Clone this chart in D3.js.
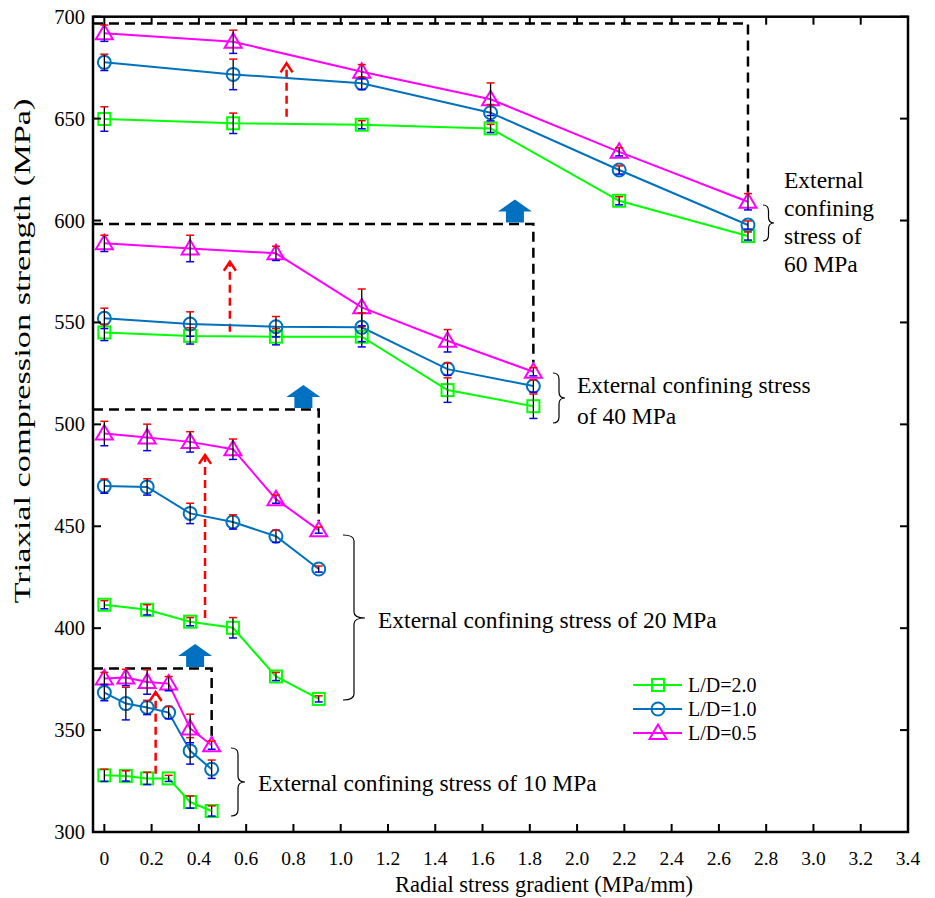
<!DOCTYPE html>
<html lang="en">
<head>
<meta charset="utf-8" />
<title>Triaxial compression strength vs radial stress gradient</title>
<style>
   body { margin:0; background:#fff; }
   text { font-family:"Liberation Serif", "Times New Roman", serif; fill:#000; }
</style>
<script src="https://d3js.org/d3.v7.min.js"></script>
</head>
<body>
<svg id="main" width="935" height="898"></svg>
<script>
// x positions (radial stress gradient, MPa/mm) for each confining stress group
var xs10 = [0, 0.091, 0.181, 0.272, 0.363, 0.454];
var xs20 = [0, 0.181, 0.363, 0.544, 0.726, 0.907];
var xs40 = [0, 0.363, 0.726, 1.089, 1.452, 1.815];
var xs60 = [0, 0.545, 1.089, 1.634, 2.178, 2.723];

// strength values (MPa) for L/D = 2.0, 1.0, 0.5
var ld20_10 = [327.8, 327.5, 326.3, 326.3, 314.7, 310.3];
var ld10_10 = [368.4, 363.0, 361.1, 358.6, 339.8, 330.8];
var ld05_10 = [375.3, 375.8, 373.6, 372.8, 350.8, 342.6];
var ld20_20 = [411.5, 409.0, 403.2, 400.2, 376.3, 365.3];
var ld10_20 = [469.7, 469.3, 456.3, 452.1, 445.1, 429.0];
var ld05_20 = [495.5, 493.6, 491.4, 487.8, 463.3, 448.1];
var ld20_40 = [545.1, 543.4, 543.0, 543.0, 516.8, 508.9];
var ld10_40 = [552.0, 549.2, 547.9, 547.6, 527.1, 518.8];
var ld05_40 = [588.8, 586.3, 583.9, 557.4, 541.0, 525.8];
var ld20_60 = [649.8, 647.7, 647.0, 645.2, 609.7, 592.4];
var ld10_60 = [677.6, 671.7, 667.3, 652.9, 624.8, 597.8];
var ld05_60 = [691.9, 687.7, 673.0, 659.5, 633.7, 609.2];

// error bar half-widths (MPa)
var err20_10 = [3, 2.5, 3, 1.5, 3, 2.5];
var err10_10 = [4, 8, 3.5, 3, 6.5, 4.5];
var err05_10 = [3, 4, 6, 3.5, 7, 2];
var err20_20 = [2, 2.5, 2, 5, 2, 1.5];
var err10_20 = [3.5, 4, 5, 3.5, 3, 1.5];
var err05_20 = [6, 6.5, 5, 5, 2, 1.5];
var err20_40 = [4, 4, 4, 5, 6, 6];
var err10_40 = [5, 6, 5, 7, 3, 3];
var err05_40 = [4, 6.5, 3.5, 9, 5.5, 2];
var err20_60 = [6, 5, 2, 2, 2, 2];
var err10_60 = [4, 7.5, 3, 4, 2, 2];
var err05_60 = [4, 5.7, 3.5, 8, 2, 4];

var xTicks = d3.range(0, 3.41, 0.2);
var yTicks = [300, 350, 400, 450, 500, 550, 600, 650, 700];
var seriesNames = ['L/D=2.0', 'L/D=1.0', 'L/D=0.5'];
var seriesColors = ['#00ff00', '#0072bd', '#ff00ff'];
var seriesShapes = ['square', 'circle', 'triangle'];

// annotation anchors (in data units)
var groupLabels = ['External confining stress of 10 MPa', 'External confining stress of 20 MPa',
   ['External confining stress', 'of 40 MPa'], ['External', 'confining', 'stress of', '60 MPa']];
var frameTops = [380.2, 507.3, 598.3, 696.7];
var blueArrowX = [0.384, 0.842, 1.737];
var redArrowX = [0.217, 0.426, 0.531, 0.771];
var redArrowFrom = [328.6, 405.0, 545.4, 650.9];
var redArrowTo = [368.7, 485.0, 579.8, 677.1];

var groups = [
   {x:xs10, vals:[ld20_10, ld10_10, ld05_10], errs:[err20_10, err10_10, err05_10]},
   {x:xs20, vals:[ld20_20, ld10_20, ld05_20], errs:[err20_20, err10_20, err05_20]},
   {x:xs40, vals:[ld20_40, ld10_40, ld05_40], errs:[err20_40, err10_40, err05_40]},
   {x:xs60, vals:[ld20_60, ld10_60, ld05_60], errs:[err20_60, err10_60, err05_60]}
];

var svg = d3.select('#main');
var x = d3.scaleLinear().domain([-0.048, 3.4]).range([93, 908]);
var y = d3.scaleLinear().domain([300, 700]).range([832, 16.7]);

function fmarker(g, shape, cx, cy, color) {
   if (shape==='square') {
      g.append('rect').attr('x', cx-6).attr('y', cy-6).attr('width', 12).attr('height', 12)
         .attr('fill', 'none').attr('stroke', color).attr('stroke-width', 2);
   } else if (shape==='circle') {
      g.append('circle').attr('cx', cx).attr('cy', cy).attr('r', 6.5)
         .attr('fill', 'none').attr('stroke', color).attr('stroke-width', 2);
   } else {
      g.append('path').attr('d', 'M'+cx+','+(cy-8.5)+'L'+(cx+8.5)+','+(cy+6)+'L'+(cx-8.5)+','+(cy+6)+'Z')
         .attr('fill', 'none').attr('stroke', color).attr('stroke-width', 2);
   }
}

// dashed black frames (top + right side) around each group
groups.forEach(function(gr, i) {
   var xr = x(gr.x[gr.x.length-1]);
   var yb = y(gr.vals[2][gr.vals[2].length-1]) - 9;
   svg.append('path')
      .attr('d', 'M'+x.range()[0]+','+y(frameTops[i])+'H'+xr+'V'+yb)
      .attr('fill', 'none').attr('stroke', '#000').attr('stroke-width', 2.5)
      .attr('stroke-dasharray', '10,6');
});

// blue block arrows sitting on the frames
blueArrowX.forEach(function(bx, i) {
   var cx = x(bx), b = y(frameTops[i]) - 1.5;
   svg.append('path')
      .attr('d', 'M'+(cx-9)+','+b+'V'+(b-11)+'H'+(cx-17)+'L'+cx+','+(b-23)+'L'+(cx+17)+','+(b-11)+'H'+(cx+9)+'V'+b+'Z')
      .attr('fill', '#0070c0');
});

// red dashed arrows
redArrowX.forEach(function(rx, i) {
   var cx = x(rx), y0 = y(redArrowFrom[i]), y1 = y(redArrowTo[i]);
   svg.append('line').attr('x1', cx).attr('x2', cx).attr('y1', y0).attr('y2', y1+2)
      .attr('stroke', '#ff0000').attr('stroke-width', 2.5).attr('stroke-dasharray', '8,5');
   svg.append('path').attr('d', 'M'+(cx-6)+','+(y1+9)+'L'+cx+','+y1+'L'+(cx+6)+','+(y1+9))
      .attr('fill', 'none').attr('stroke', '#ff0000').attr('stroke-width', 2.5);
});

// series lines, markers and error bars
var line = d3.line().x(function(d) { return x(d[0]); }).y(function(d) { return y(d[1]); });
groups.forEach(function(gr) {
   gr.vals.forEach(function(vals, s) {
      var pts = vals.map(function(v, k) { return [gr.x[k], v]; });
      svg.append('path').attr('d', line(pts)).attr('fill', 'none')
         .attr('stroke', seriesColors[s]).attr('stroke-width', 2);
   });
   gr.vals.forEach(function(vals, s) {
      var g = svg.append('g');
      vals.forEach(function(v, k) { fmarker(g, seriesShapes[s], x(gr.x[k]), y(v), seriesColors[s]); });
   });
   gr.vals.forEach(function(vals, s) {
      var g = svg.append('g');
      vals.forEach(function(v, k) {
         var cx = x(gr.x[k]), yt = y(v + gr.errs[s][k]), yb = y(v - gr.errs[s][k]);
         g.append('line').attr('x1', cx).attr('x2', cx).attr('y1', yt).attr('y2', yb)
            .attr('stroke', '#000').attr('stroke-width', 1.3);
         g.append('line').attr('x1', cx-4).attr('x2', cx+4).attr('y1', yt).attr('y2', yt)
            .attr('stroke', '#ff0000').attr('stroke-width', 1.5);
         g.append('line').attr('x1', cx-4).attr('x2', cx+4).attr('y1', yb).attr('y2', yb)
            .attr('stroke', '#0000ff').attr('stroke-width', 1.5);
      });
   });
});

// curly braces with group labels
function fbrace(x0, x1, y0, y1, ym) {
   var xm = (x0+x1)/2, q = 6;
   return 'M'+x0+','+y0+'Q'+xm+','+y0+' '+xm+','+(y0+q)+'L'+xm+','+(ym-q)+'Q'+xm+','+ym+' '+x1+','+ym
      +'Q'+xm+','+ym+' '+xm+','+(ym+q)+'L'+xm+','+(y1-q)+'Q'+xm+','+y1+' '+x0+','+y1;
}
var braces = [[231, 245, 748, 816, 782], [343, 365, 535, 700, 618], [553, 565, 373, 423, 398], [763, 774, 205, 241, 223]];
var labelPos = [[258, 791, 28], [378, 628, 28], [577, 393, 31], [784, 188, 28]];
braces.forEach(function(b, i) {
   svg.append('path').attr('d', fbrace(b[0], b[1], b[2], b[3], b[4]))
      .attr('fill', 'none').attr('stroke', '#000').attr('stroke-width', 1.2);
   var lines = [].concat(groupLabels[i]);
   var t = svg.append('text').attr('x', labelPos[i][0]).attr('y', labelPos[i][1]).style('font-size', '23.5px');
   lines.forEach(function(l, k) {
      t.append('tspan').attr('x', labelPos[i][0]).attr('dy', k===0 ? 0 : labelPos[i][2]).text(l);
   });
});

// axes frame and ticks
svg.append('rect').attr('x', 93).attr('y', 16.7).attr('width', 815).attr('height', 815.3)
   .attr('fill', 'none').attr('stroke', '#000').attr('stroke-width', 2.5);
xTicks.forEach(function(t) {
   svg.append('line').attr('x1', x(t)).attr('x2', x(t)).attr('y1', 832).attr('y2', 824).attr('stroke', '#000').attr('stroke-width', 2);
   svg.append('line').attr('x1', x(t)).attr('x2', x(t)).attr('y1', 16.7).attr('y2', 24.7).attr('stroke', '#000').attr('stroke-width', 2);
   svg.append('text').attr('x', x(t)).attr('y', 865).attr('text-anchor', 'middle').style('font-size', '19.5px')
      .text(t < 0.01 ? '0' : t.toFixed(1));
});
yTicks.forEach(function(t) {
   svg.append('line').attr('x1', 93).attr('x2', 101).attr('y1', y(t)).attr('y2', y(t)).attr('stroke', '#000').attr('stroke-width', 2);
   svg.append('line').attr('x1', 908).attr('x2', 900).attr('y1', y(t)).attr('y2', y(t)).attr('stroke', '#000').attr('stroke-width', 2);
   svg.append('text').attr('x', 85).attr('y', y(t)+7).attr('text-anchor', 'end').style('font-size', '20.5px').text(t);
});
svg.append('text').attr('x', 544).attr('y', 892).attr('text-anchor', 'middle').style('font-size', '22.5px')
   .text('Radial stress gradient (MPa/mm)');
svg.append('text').attr('transform', 'translate(30,351) rotate(-90)').attr('text-anchor', 'middle').style('font-size', '24px')
   .attr('textLength', 505).attr('lengthAdjust', 'spacingAndGlyphs')
   .text('Triaxial compression strength (MPa)');

// legend
seriesNames.forEach(function(n, i) {
   var ly = 685 + i*24;
   svg.append('line').attr('x1', 633).attr('x2', 682).attr('y1', ly).attr('y2', ly)
      .attr('stroke', seriesColors[i]).attr('stroke-width', 2);
   fmarker(svg.append('g'), seriesShapes[i], 658, ly, seriesColors[i]);
   svg.append('text').attr('x', 688).attr('y', ly+7).style('font-size', '20px').text(n);
});
</script>
</body>
</html>
